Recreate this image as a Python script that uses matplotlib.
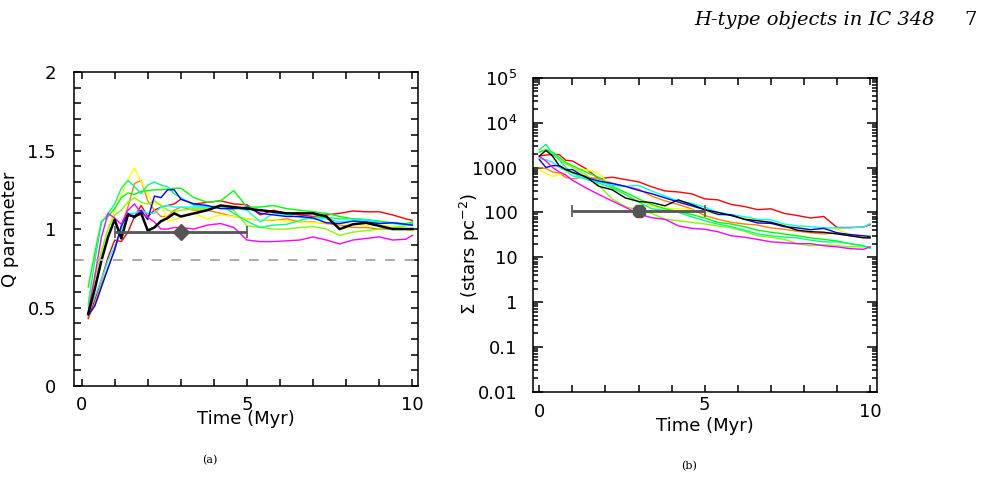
import matplotlib
matplotlib.use("Agg")
import matplotlib.pyplot as plt
import matplotlib.ticker as mticker
import matplotlib.transforms as mtransforms
import numpy as np

# ---- panel (a): Q parameter vs time ----
tQ = [0.2, 0.4, 0.6, 0.8, 1.0, 1.2, 1.4, 1.6, 1.8, 2.0, 2.2, 2.4, 2.6, 2.8, 3.0, 3.4, 3.8,
      4.2, 4.6, 5.0, 5.4, 5.8, 6.2, 6.6, 7.0, 7.4, 7.8, 8.2, 8.6, 9.0, 9.4, 9.8, 10.0]

qRed = [0.43, 0.55, 0.68, 0.82, 0.93, 0.92, 0.98, 1.08, 1.15, 1.08, 1.12, 1.14, 1.15, 1.16, 1.19, 1.16, 1.17,
        1.18, 1.16, 1.155, 1.09, 1.12, 1.10, 1.09, 1.08, 1.09, 1.10, 1.115, 1.11, 1.11, 1.09, 1.065, 1.055]
qOrange = [0.44, 0.52, 0.65, 0.76, 0.86, 1.02, 1.14, 1.29, 1.31, 1.18, 1.12, 1.08, 1.08, 1.12, 1.14, 1.12, 1.12,
           1.10, 1.08, 1.065, 1.055, 1.055, 1.065, 1.045, 1.045, 1.035, 1.025, 1.01, 1.01, 1.00, 1.00, 1.00, 0.99]
qYellow = [0.55, 0.70, 0.85, 1.00, 1.12, 1.22, 1.31, 1.39, 1.30, 1.22, 1.16, 1.16, 1.05, 1.06, 1.075, 1.10, 1.065,
           1.09, 1.08, 1.065, 1.055, 1.06, 1.05, 1.045, 1.04, 1.04, 1.035, 1.03, 1.025, 1.025, 1.02, 1.00, 0.99]
qLime = [0.50, 0.68, 0.86, 1.00, 1.09, 1.12, 1.17, 1.20, 1.17, 1.16, 1.18, 1.15, 1.12, 1.11, 1.12, 1.13, 1.13,
         1.14, 1.12, 1.02, 1.01, 1.00, 1.00, 1.01, 1.015, 1.00, 0.96, 0.98, 0.99, 1.00, 1.01, 1.02, 1.03]
qGreen = [0.63, 0.85, 1.05, 1.08, 1.13, 1.20, 1.23, 1.22, 1.24, 1.245, 1.25, 1.25, 1.255, 1.26, 1.26, 1.20, 1.17,
          1.18, 1.245, 1.14, 1.14, 1.15, 1.13, 1.12, 1.11, 1.10, 1.08, 1.065, 1.06, 1.05, 1.04, 1.035, 1.045]
qSpring = [0.52, 0.80, 1.04, 1.10, 1.16, 1.26, 1.31, 1.27, 1.225, 1.28, 1.30, 1.28, 1.27, 1.225, 1.20, 1.15, 1.14,
           1.15, 1.10, 1.05, 1.01, 1.025, 1.03, 1.055, 1.075, 1.075, 1.065, 1.065, 1.06, 1.045, 1.04, 1.03, 1.035]
qCyan = [0.46, 0.57, 0.68, 0.80, 0.89, 0.99, 1.10, 1.10, 1.12, 1.10, 1.10, 1.14, 1.15, 1.14, 1.14, 1.14, 1.14,
         1.14, 1.13, 1.12, 1.045, 1.10, 1.09, 1.075, 1.065, 1.065, 1.045, 1.055, 1.055, 1.04, 1.035, 1.025, 1.025]
qBlue = [0.45, 0.51, 0.63, 0.75, 0.87, 1.02, 1.10, 1.07, 1.12, 1.06, 1.21, 1.20, 1.25, 1.25, 1.19, 1.16, 1.15,
         1.13, 1.13, 1.14, 1.10, 1.09, 1.08, 1.08, 1.07, 1.04, 1.035, 1.05, 1.045, 1.035, 1.04, 1.03, 1.025]
qMagenta = [0.47, 0.70, 0.95, 1.10, 1.07, 1.03, 1.12, 1.16, 1.10, 1.075, 1.045, 1.00, 1.00, 1.01, 1.01, 1.00, 1.025,
            1.035, 1.01, 0.93, 0.92, 0.92, 0.925, 0.93, 0.95, 0.93, 0.905, 0.93, 0.94, 0.95, 0.93, 0.935, 0.96]
qBlack = [0.46, 0.62, 0.80, 0.95, 1.06, 0.94, 1.09, 1.08, 1.10, 0.99, 1.01, 1.05, 1.07, 1.10, 1.08, 1.10, 1.12,
          1.15, 1.14, 1.13, 1.12, 1.11, 1.10, 1.10, 1.10, 1.08, 1.00, 1.03, 1.04, 1.02, 1.00, 1.00, 1.00]

qObs = 0.98
qObsLine = 0.8

# ---- panel (b): surface density vs time ----
tS = [0.0, 0.2, 0.4, 0.6, 0.8, 1.0, 1.4, 1.8, 2.2, 2.6, 3.0, 3.4, 3.8, 4.2, 4.6, 5.0, 5.4,
      5.8, 6.2, 6.6, 7.0, 7.4, 7.8, 8.2, 8.6, 9.0, 9.4, 9.8, 10.0]

sRed = [1800, 1900, 1950, 1950, 1450, 1400, 950, 560, 610, 540, 480, 370, 300, 285, 260, 200, 190,
        150, 135, 115, 120, 95, 85, 75, 81, 46, 46, 47, 53]
sOrange = [1000, 950, 800, 750, 600, 560, 620, 560, 450, 380, 330, 230, 180, 150, 120, 85, 70,
           60, 55, 52, 45, 42, 38, 35, 33, 35, 30, 28, 27]
sYellow = [900, 750, 630, 700, 780, 850, 900, 750, 350, 250, 175, 140, 125, 120, 112, 100, 95,
           85, 75, 65, 55, 52, 48, 42, 44, 42, 32, 30, 30]
sLime = [2200, 2500, 2000, 1500, 1200, 1000, 700, 400, 200, 135, 110, 95, 70, 65, 60, 55, 50,
         45, 38, 30, 28, 25, 20, 18, 19, 18, 17, 17, 17]
sGreen = [2200, 2500, 2200, 1700, 1300, 1100, 800, 600, 380, 280, 200, 150, 120, 105, 90, 75, 60,
          55, 48, 40, 36, 33, 30, 27, 25, 23, 20, 18, 16]
sSpring = [2500, 3300, 2000, 1500, 1000, 750, 550, 450, 350, 250, 170, 120, 110, 100, 80, 65, 55,
           48, 40, 33, 30, 28, 27, 24, 22, 22, 20, 18, 16]
sCyan = [1600, 1500, 1300, 1000, 850, 650, 560, 480, 400, 380, 400, 300, 230, 180, 160, 130, 100,
         90, 80, 70, 68, 55, 50, 48, 45, 45, 45, 47, 56]
sBlue = [1500, 1000, 1100, 1100, 900, 900, 600, 500, 440, 380, 310, 260, 210, 170, 140, 115, 90,
         88, 70, 58, 57, 48, 45, 41, 44, 35, 32, 30, 29]
sMagenta = [1760, 1400, 1000, 800, 680, 520, 355, 250, 180, 130, 92, 76, 70, 50, 44, 42, 37,
            30, 28, 25, 22, 21, 20, 20, 18, 17, 15.5, 15, 17]
sBlack = [1800, 2400, 1800, 1100, 900, 780, 630, 380, 320, 210, 175, 165, 140, 190, 150, 115, 100,
          85, 70, 65, 60, 50, 40, 37, 36, 33, 30, 27, 27]

sObs = 105

tObs = 3.0
tObsErr = 2.0

colors = ['#ff0000', '#ff8000', '#ffff00', '#80ff00', '#00ff00', '#00ff80', '#00ffff', '#0000ff', '#ff00ff']
qSeries = [qRed, qOrange, qYellow, qLime, qGreen, qSpring, qCyan, qBlue, qMagenta]
sSeries = [sRed, sOrange, sYellow, sLime, sGreen, sSpring, sCyan, sBlue, sMagenta]

plt.rcParams['font.family'] = ['DejaVu Sans']
plt.rcParams['font.size'] = 13

fig = plt.figure(figsize=(9.92, 4.99), dpi=100)
ax1 = fig.add_axes([0.0746, 0.2265, 0.3468, 0.629])
ax2 = fig.add_axes([0.537, 0.215, 0.3468, 0.629])

# panel (a)
for c, q in zip(colors, qSeries):
    ax1.plot(tQ, q, color=c, lw=1.0)
ax1.plot(tQ, qBlack, color='black', lw=1.8)
ax1.axhline(qObsLine, color='#aaaaaa', lw=1.4, linestyle=(0, (5, 5)))
ax1.errorbar([tObs], [qObs], xerr=[[tObsErr], [tObsErr]], fmt='D', color='#555555',
             ms=8, elinewidth=2, capsize=4, capthick=1.2)

ax1.set_xlim(-0.23, 10.17)
ax1.set_ylim(0, 2)
ax1.set_xticks([0, 5, 10])
ax1.set_xticklabels(['0', '5', '10'])
ax1.xaxis.set_minor_locator(mticker.MultipleLocator(1))
ax1.set_yticks([0, 0.5, 1, 1.5, 2])
ax1.set_yticklabels(['0', '0.5', '1', '1.5', '2'])
ax1.yaxis.set_minor_locator(mticker.MultipleLocator(0.1))
ax1.tick_params(which='both', direction='in', top=True, right=True, length=5, width=1.1)
ax1.tick_params(axis='y', pad=13)
ax1.tick_params(axis='x', pad=7)
ax1.set_xlabel('Time (Myr)', labelpad=-3)
ax1.set_ylabel('Q parameter')
ax1.yaxis.set_label_coords(-0.16, 0.5)

# panel (b)
for c, s in zip(colors, sSeries):
    ax2.plot(tS, s, color=c, lw=1.0)
ax2.plot(tS, sBlack, color='black', lw=1.0)
ax2.errorbar([tObs], [sObs], xerr=[[tObsErr], [tObsErr]], fmt='8', color='#555555',
             ms=10, elinewidth=2, capsize=4, capthick=1.2)

ax2.set_yscale('log')
ax2.set_xlim(-0.2, 10.2)
ax2.set_ylim(0.01, 1e5)
ax2.set_xticks([0, 5, 10])
ax2.set_xticklabels(['0', '5', '10'])
ax2.xaxis.set_minor_locator(mticker.MultipleLocator(1))
ax2.set_yticks([0.01, 0.1, 1, 10, 100, 1000, 1e4, 1e5])
ax2.set_yticklabels(['0.01', '0.1', '1', '10', '100', '1000', '$10^4$', '$10^5$'])
ax2.yaxis.set_minor_locator(mticker.LogLocator(base=10, subs=np.arange(2, 10)))
ax2.yaxis.set_minor_formatter(mticker.NullFormatter())
ax2.tick_params(which='both', direction='in', top=True, right=True, width=1.1)
ax2.tick_params(axis='y', which='major', length=7, pad=11)
ax2.tick_params(axis='y', which='minor', length=3.5)
ax2.tick_params(axis='x', which='both', length=5, pad=8)
ax2.set_xlabel('Time (Myr)', labelpad=-3)
ax2.set_ylabel(r'$\Sigma$ (stars pc$^{-2}$)')
ax2.yaxis.set_label_coords(-0.147, 0.44)

# the middle tick label sits a little higher in panel (b)
lift = mtransforms.ScaledTranslation(0, 5 / 72, fig.dpi_scale_trans)
lbl5 = ax2.get_xticklabels()[1]
lbl5.set_transform(lbl5.get_transform() + lift)

for ax in (ax1, ax2):
    for sp in ax.spines.values():
        sp.set_linewidth(1.1)

# page header and captions
fig.text(0.942, 0.978, 'H-type objects in IC 348', family='DejaVu Serif', style='italic',
         fontsize=14, ha='right', va='top')
fig.text(0.985, 0.978, '7', family='DejaVu Serif', fontsize=14, ha='right', va='top')
fig.text(0.212, 0.078, '(a)', family='DejaVu Serif', fontsize=8, ha='center', va='center')
fig.text(0.695, 0.066, '(b)', family='DejaVu Serif', fontsize=8, ha='center', va='center')

fig.savefig('out.png', dpi=100)
